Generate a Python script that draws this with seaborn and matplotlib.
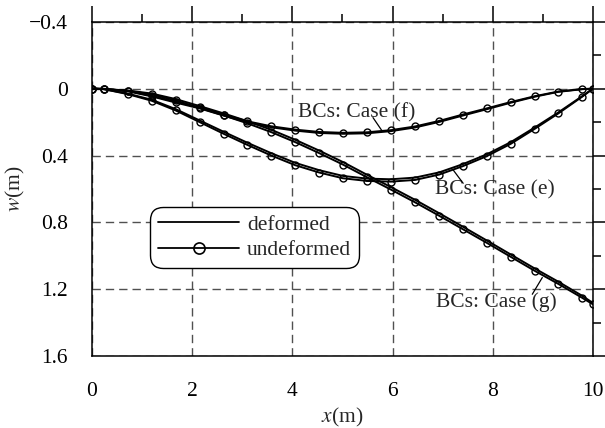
import matplotlib
matplotlib.use("Agg")
import matplotlib.pyplot as plt
import seaborn as sns
from matplotlib.lines import Line2D
from matplotlib.ticker import MultipleLocator, FixedLocator, FixedFormatter

# node positions along the beam (m)
x_nodes = [0, 0.24, 0.72, 1.19, 1.67, 2.15, 2.63, 3.10, 3.58, 4.06, 4.54, 5.01,
           5.49, 5.97, 6.45, 6.93, 7.40, 7.88, 8.36, 8.84, 9.31, 9.79, 10.0]

# BCs: Case (f)
w_f_undef = [0, 0.001, 0.014, 0.042, 0.078, 0.112, 0.155, 0.195, 0.225, 0.245, 0.259, 0.264,
             0.261, 0.248, 0.226, 0.193, 0.155, 0.118, 0.080, 0.045, 0.017, 0.002, 0]
w_f_def = [0, 0.001, 0.016, 0.046, 0.083, 0.118, 0.161, 0.201, 0.231, 0.251, 0.265, 0.270,
           0.267, 0.254, 0.232, 0.199, 0.161, 0.123, 0.084, 0.048, 0.019, 0.003, 0]

# BCs: Case (e)
w_e_undef = [0, 0.003, 0.033, 0.072, 0.130, 0.200, 0.270, 0.336, 0.400, 0.458, 0.502, 0.536,
             0.552, 0.556, 0.546, 0.514, 0.464, 0.404, 0.330, 0.240, 0.148, 0.047, 0]
w_e_def = [0, 0.003, 0.030, 0.066, 0.122, 0.190, 0.258, 0.323, 0.386, 0.444, 0.488, 0.522,
           0.538, 0.542, 0.532, 0.501, 0.452, 0.393, 0.320, 0.232, 0.142, 0.044, 0]

# BCs: Case (g)
w_g_undef = [0, 0.002, 0.013, 0.034, 0.070, 0.115, 0.160, 0.207, 0.260, 0.320, 0.386, 0.454,
             0.530, 0.604, 0.680, 0.760, 0.840, 0.922, 1.006, 1.090, 1.168, 1.252, 1.290]
w_g_def = [0, 0.002, 0.011, 0.029, 0.062, 0.104, 0.148, 0.194, 0.246, 0.306, 0.371, 0.439,
           0.515, 0.589, 0.665, 0.745, 0.825, 0.908, 0.992, 1.076, 1.155, 1.240, 1.282]

case_labels = ["BCs: Case (f)", "BCs: Case (e)", "BCs: Case (g)"]
label_pos = [(5.29, 0.142), (8.04, 0.605), (8.08, 1.28)]
leader_from = [(5.61, 0.173), (7.41, 0.566), (8.79, 1.23)]
leader_to = [(5.79, 0.252), (7.21, 0.486), (8.99, 1.13)]

y_ticks = [-0.4, 0, 0.4, 0.8, 1.2, 1.6]
y_ticklabels = ["\u22120.4", "0", "0.4", "0.8", "1.2", "1.6"]
x_ticks = [0, 2, 4, 6, 8, 10]

sns.set_style("white")
plt.rcParams["font.family"] = ["Liberation Serif", "DejaVu Serif"]
plt.rcParams["mathtext.fontset"] = "stix"
fs = 15.5

fig = plt.figure(figsize=(6.05, 4.28), dpi=100)
ax = fig.add_axes([0.152, 0.168, 0.828, 0.781])

for w_def, w_undef in [(w_f_def, w_f_undef), (w_e_def, w_e_undef), (w_g_def, w_g_undef)]:
    sns.lineplot(x=x_nodes, y=w_def, color="k", lw=1.4, estimator=None, sort=False, ax=ax)
    sns.lineplot(x=x_nodes, y=w_undef, color="k", lw=1.4, estimator=None, sort=False,
                 marker="o", markersize=5, markerfacecolor="none", markeredgecolor="k",
                 markeredgewidth=1.0, ax=ax)

for txt, pos, p0, p1 in zip(case_labels, label_pos, leader_from, leader_to):
    ax.text(pos[0], pos[1], txt, ha="center", va="center", fontsize=fs)
    ax.annotate("", xy=p1, xytext=p0,
                arrowprops=dict(arrowstyle="-", lw=0.9, color="k", shrinkA=0, shrinkB=0))

ax.set_xlim(0, 10)
ax.set_ylim(1.6, -0.4)
ax.xaxis.set_major_locator(FixedLocator(x_ticks))
ax.xaxis.set_minor_locator(MultipleLocator(1))
ax.yaxis.set_major_locator(FixedLocator(y_ticks))
ax.yaxis.set_major_formatter(FixedFormatter(y_ticklabels))
ax.yaxis.set_minor_locator(MultipleLocator(0.2))

ax.tick_params(which="both", direction="out", top=True, right=True, colors="k",
               width=1.1, labelsize=fs)
ax.tick_params(which="major", length=11.5, pad=6)
ax.tick_params(axis="x", which="major", pad=7)
ax.tick_params(which="minor", length=5.8)

for s in ax.spines.values():
    s.set_color("k")
    s.set_linewidth(1.1)

ax.grid(True, which="major", color="#505050", lw=1.0, linestyle=(0, (6, 3.6)))
ax.set_axisbelow(True)

ax.set_xlabel("$x$(m)", fontsize=fs)
ax.set_ylabel("$w$(m)", fontsize=fs)
ax.xaxis.set_label_coords(0.5, -0.148)
ax.yaxis.set_label_coords(-0.13, 0.5)

handles = [
    Line2D([], [], color="k", lw=1.3),
    Line2D([], [], color="k", lw=1.3, marker="o", markersize=8, markerfacecolor="none",
           markeredgewidth=1.2),
]
leg = ax.legend(handles, ["deformed", "undeformed"], loc="upper left",
                bbox_to_anchor=(0.116, 0.446), borderaxespad=0, fontsize=fs,
                handlelength=3.8, handletextpad=0.35, labelspacing=0.25,
                borderpad=0.35, numpoints=1, fancybox=True, framealpha=1)
leg.get_frame().set_edgecolor("k")
leg.get_frame().set_linewidth(1.0)
leg.get_frame().set_boxstyle("round,pad=0,rounding_size=0.6")

fig.savefig("out.png", dpi=100)
